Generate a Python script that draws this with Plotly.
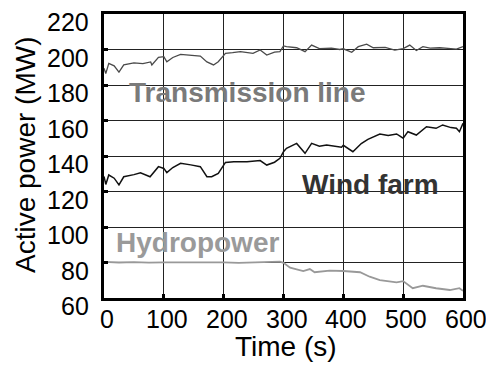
import plotly.graph_objects as go

# Transmission line
t_tl = [0, 3, 8, 17, 25, 33, 50, 65, 78, 80, 91, 100, 105, 115, 128, 145, 161, 172, 183, 191, 203, 215, 228, 249, 261, 272, 285, 294, 300,
        305, 322, 336, 347, 360, 380, 394, 400, 414, 425, 439, 450, 470, 486, 500, 511, 522, 533, 545, 561, 575, 589, 600]
p_tl = [189.5, 186.5, 192.2, 190.8, 187.2, 191.3, 192.5, 192.0, 193.0, 191.3, 195.6, 196.0, 193.1, 195.5, 197.3, 196.8, 196.3, 193.0, 191.3, 193.1, 197.8, 198.2, 198.8, 197.8, 199.7, 196.9, 198.5, 198.8, 202.0,
        201.6, 201.0, 198.8, 202.5, 200.5, 200.8, 200.0, 200.4, 198.4, 201.6, 203.0, 201.0, 201.2, 199.7, 200.5, 202.5, 199.4, 201.6, 200.8, 201.0, 200.6, 200.2, 201.6]

# Wind farm
t_wf = [0, 3, 8, 17, 25, 33, 50, 61, 77, 91, 100, 105, 115, 128, 145, 161, 172, 180, 191, 203, 217, 239, 261, 272, 285, 294, 300,
        305, 322, 336, 347, 360, 372, 385, 397, 400, 416, 430, 441, 461, 475, 489, 500, 508, 522, 539, 555, 566, 580, 589, 594, 600]
p_wf = [128.5, 124.0, 129.3, 127.5, 123.7, 128.3, 129.5, 130.6, 128.3, 134.0, 133.0, 130.6, 133.5, 135.9, 135.0, 134.0, 128.3, 128.3, 130.2, 136.4, 136.8, 136.8, 137.4, 134.9, 136.5, 138.7, 142.4,
        144.3, 147.1, 141.5, 147.1, 145.5, 146.2, 145.5, 144.9, 146.0, 142.4, 147.0, 149.4, 152.4, 151.5, 152.4, 150.0, 153.7, 151.8, 156.5, 155.6, 157.5, 156.0, 155.6, 153.7, 158.4]

# Hydropower
t_hp = [0, 25, 50, 75, 100, 125, 150, 175, 200, 225, 250, 275, 294, 300,
        311, 333, 344, 352, 377, 400, 428, 444, 461, 489, 500, 516, 533, 555, 578, 594, 600]
p_hp = [80.3, 80.0, 80.2, 79.9, 80.1, 80.2, 79.9, 80.0, 80.1, 79.8, 80.0, 80.1, 80.5, 79.8,
        77.1, 75.2, 76.3, 74.5, 75.4, 75.2, 74.5, 72.0, 70.1, 68.8, 69.5, 65.5, 66.9, 65.5, 64.5, 65.5, 64.0]

x_ticks = [0, 100, 200, 300, 400, 500, 600]
y_ticks = [60, 80, 100, 120, 140, 160, 180, 200, 220]
x_title = "Time (s)"
y_title = "Active power (MW)"

labels = ["Transmission line", "Wind farm", "Hydropower"]
label_x = [39, 327, 16]
label_y = [175.5, 123.7, 91.5]
label_colors = ["#7a7a7a", "#333333", "#9a9a9a"]

FONT = "Liberation Sans, Arial, sans-serif"

fig = go.Figure()
fig.add_trace(go.Scatter(x=t_tl, y=p_tl, mode="lines", line=dict(color="#4a4a4a", width=1.3), showlegend=False))
fig.add_trace(go.Scatter(x=t_wf, y=p_wf, mode="lines", line=dict(color="#111111", width=1.5), showlegend=False))
fig.add_trace(go.Scatter(x=t_hp, y=p_hp, mode="lines", line=dict(color="#999999", width=1.8), showlegend=False))

for txt, ax_, ay_, c in zip(labels, label_x, label_y, label_colors):
    fig.add_annotation(x=ax_, y=ay_, text="<b>%s</b>" % txt, showarrow=False, xanchor="left", yanchor="middle",
                       font=dict(family=FONT, size=28, color=c))

# tick labels (slightly offset from the ticks, as in the original export)
for v in y_ticks:
    fig.add_annotation(x=0, xref="paper", y=v, yref="y", text=str(v), showarrow=False,
                       xanchor="right", yanchor="middle", xshift=-13, yshift=-8,
                       font=dict(family=FONT, size=25, color="black"))
for v in x_ticks:
    fig.add_annotation(x=v, xref="x", y=0, yref="paper", text=str(v), showarrow=False,
                       xanchor="center", yanchor="top", xshift=3, yshift=-5,
                       font=dict(family=FONT, size=25, color="black"))

fig.add_annotation(x=0.5, xref="paper", y=0, yref="paper", text=x_title, showarrow=False,
                   xanchor="center", yanchor="middle", xshift=2, yshift=-48,
                   font=dict(family=FONT, size=28, color="black"))
fig.add_annotation(x=0, xref="paper", y=0.5, yref="paper", text=y_title, showarrow=False, textangle=-90,
                   xanchor="center", yanchor="middle", xshift=-79, yshift=1,
                   font=dict(family=FONT, size=28, color="black"))

# page body has an 8px default margin, so the figure is placed at (8, 8)
fig.update_layout(
    width=486, height=360,
    margin=dict(l=96, r=31, t=6, b=70),
    paper_bgcolor="white", plot_bgcolor="white",
    font=dict(family=FONT, size=25, color="black"),
)
fig.update_xaxes(range=[0, 600], tickvals=x_ticks, showticklabels=False,
                 showgrid=True, gridcolor="#222222", gridwidth=1,
                 showline=True, linecolor="black", linewidth=3, mirror=True,
                 ticks="inside", ticklen=4, tickwidth=3, tickcolor="black",
                 zeroline=False, automargin=False)
fig.update_yaxes(range=[60, 220], tickvals=y_ticks, showticklabels=False,
                 showgrid=True, gridcolor="#222222", gridwidth=1,
                 showline=True, linecolor="black", linewidth=3, mirror=True,
                 ticks="inside", ticklen=4, tickwidth=3, tickcolor="black",
                 zeroline=False, automargin=False)

fig.write_html("out.html")
